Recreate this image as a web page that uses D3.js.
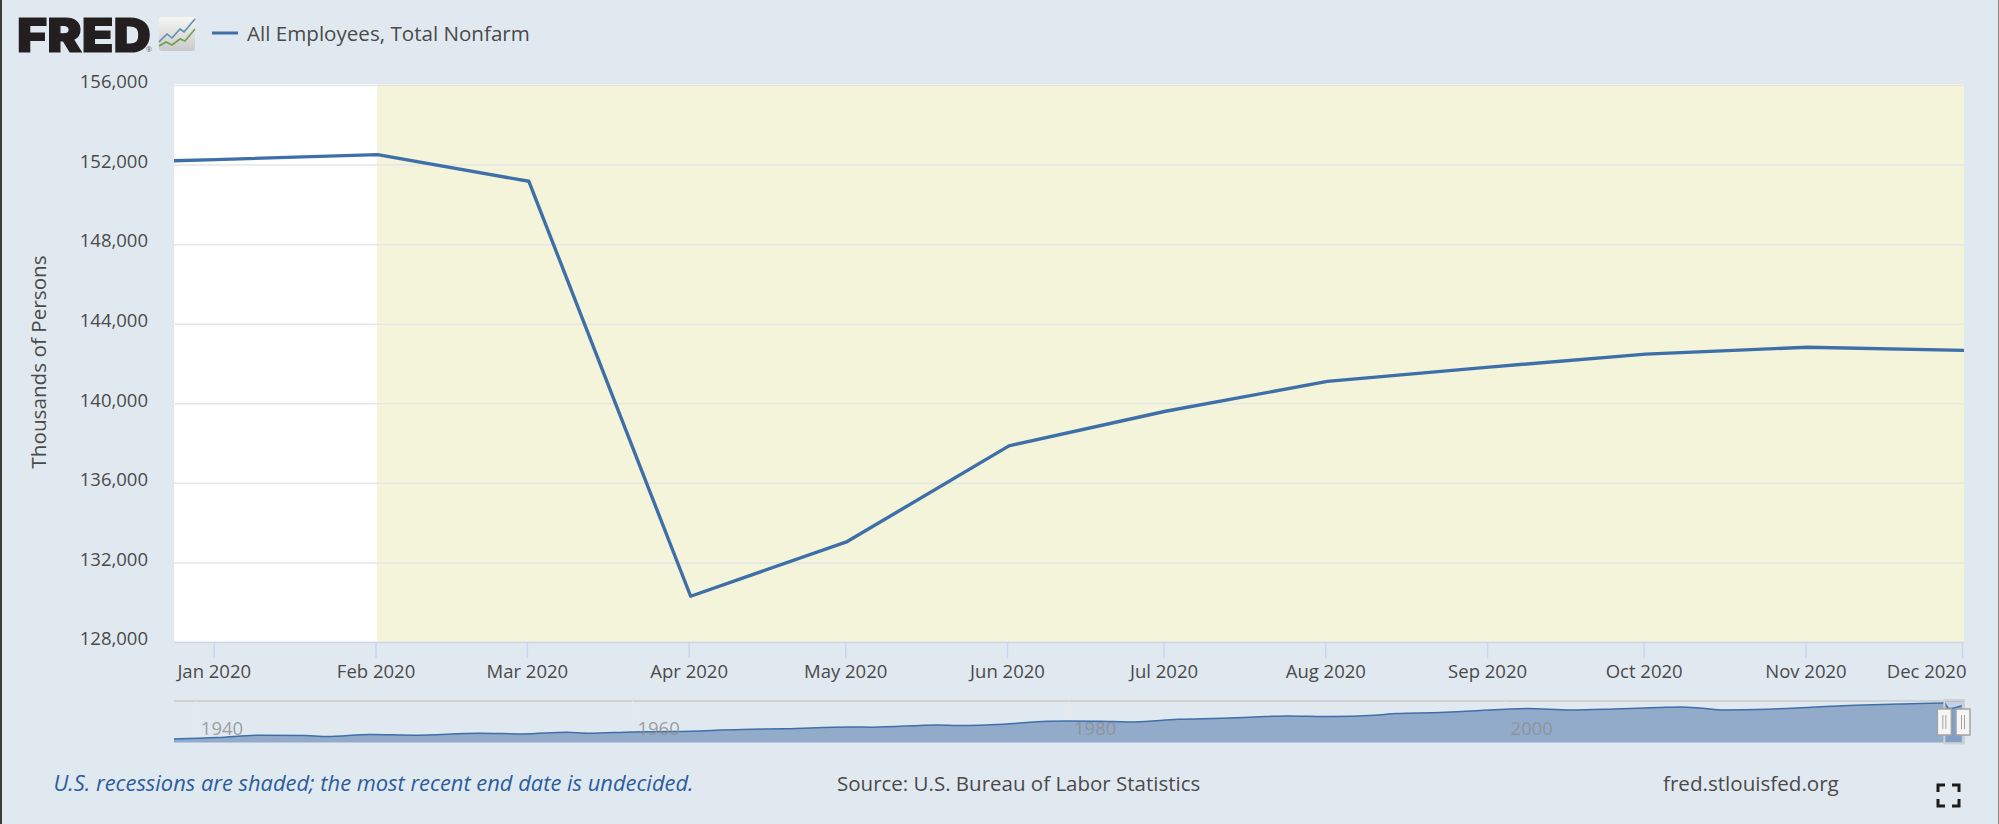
<!DOCTYPE html>
<html>
<head>
<meta charset="utf-8">
<script src="https://cdn.jsdelivr.net/npm/d3@7"></script>
<style>
  html, body { margin: 0; padding: 0; background: #e1e9f0; overflow: hidden; }
  text { font-family: "Open Sans", sans-serif; }
  .domain { display: none; }
</style>
</head>
<body>
<div id="chart"></div>
<script>
// monthly values, thousands of persons (Dec 2019 runs off the left edge)
var months = ["2019-12-01", "2020-01-01", "2020-02-01", "2020-03-01", "2020-04-01", "2020-05-01", "2020-06-01",
              "2020-07-01", "2020-08-01", "2020-09-01", "2020-10-01", "2020-11-01", "2020-12-01"];
var employees = [152020, 152250, 152500, 151160, 130300, 133050, 137860, 139600, 141100, 141820, 142470, 142820, 142660];

var yTicks = [128000, 132000, 136000, 140000, 144000, 148000, 152000, 156000];
var tickMonths = months.slice(1);

// navigator series, whole history
var navYears = [1939, 1941, 1943, 1945, 1946, 1948, 1950, 1953, 1955, 1957, 1958, 1960, 1962, 1965, 1967, 1970, 1971,
                1974, 1975, 1977, 1979, 1980, 1982, 1983, 1985, 1987, 1989, 1990, 1992, 1994, 1995, 1997, 1999, 2000,
                2001, 2003, 2005, 2007, 2008, 2009, 2010, 2012, 2014, 2016, 2018, 2020.1, 2020.3, 2020.9];
var navValues = [30000, 34800, 42600, 41600, 38200, 45000, 42600, 49400, 47000, 52800, 49400, 53800, 55200, 62000, 64700,
                 70800, 69800, 77600, 75600, 80000, 90200, 91300, 89200, 87900, 97000, 100400, 106200, 108300, 106200,
                 110600, 116400, 119800, 127700, 131100, 133400, 128700, 132100, 136900, 138900, 134500, 128700, 131100,
                 137900, 144700, 149100, 152500, 133400, 143600];
var navTicks = [1940, 1960, 1980, 2000];

var seriesName = "All Employees, Total Nonfarm";
var yTitle = "Thousands of Persons";
var noteText = "U.S. recessions are shaded; the most recent end date is undecided.";
var sourceText = "Source: U.S. Bureau of Labor Statistics";
var siteText = "fred.stlouisfed.org";

var W = 1999, H = 824;
var left = 174, right = 1964, top_ = 84, bottom = 642;
var parse = d3.timeParse("%Y-%m-%d");
var lineColor = "#3f6fa8";
var textColor = "#4a4a4a";

var svg = d3.select("#chart").append("svg").attr("width", W).attr("height", H).style("display", "block");

svg.append("rect").attr("width", W).attr("height", H).attr("fill", "#e1e9f0");
svg.append("rect").attr("width", 2).attr("height", H).attr("fill", "#3c3c3c");
svg.append("rect").attr("x", W - 1).attr("width", 1).attr("height", H).attr("fill", "#8a8a8a");

// scales
var xscale = d3.scaleTime()
    .domain([parse("2019-12-24"), parse("2020-12-01")])
    .range([left, right]);

var yscale = d3.scaleLinear()
    .domain([128000, 156000])
    .range([bottom, 85]);

// plot background + recession band
svg.append("rect")
    .attr("x", left).attr("y", top_)
    .attr("width", right - left).attr("height", bottom - top_)
    .attr("fill", "#fff");

svg.append("rect")
    .attr("x", xscale(parse("2020-02-01")) - 0.5).attr("y", top_)
    .attr("width", right - xscale(parse("2020-02-01")) + 0.5).attr("height", bottom - top_)
    .attr("fill", "#f4f4db");

// y axis with gridlines
var yAxis = svg.append("g")
    .attr("transform", "translate(" + left + ",0)")
    .call(d3.axisLeft(yscale).tickValues(yTicks).tickSize(-(right - left)).tickPadding(26).tickFormat(d3.format(",")));

yAxis.selectAll("line").attr("stroke", "#e6e6e6").attr("stroke-width", 1.5);
yAxis.selectAll("text").attr("fill", textColor).style("font-size", "18.5px").attr("dy", "0.15em");

svg.append("text")
    .attr("transform", "translate(38,362) rotate(-90)")
    .attr("text-anchor", "middle")
    .attr("dominant-baseline", "central")
    .attr("fill", textColor)
    .style("font-size", "20.7px")
    .text(yTitle);

// x axis, ticks sit a touch left of the data points
var xAxis = svg.append("g")
    .attr("transform", "translate(-2," + bottom + ")")
    .call(d3.axisBottom(xscale)
        .tickValues(tickMonths.map(parse))
        .tickSize(16)
        .tickPadding(7)
        .tickFormat(d3.timeFormat("%b %Y")));

xAxis.selectAll("line").attr("stroke", "#ccd6eb").attr("stroke-width", 1.5);
xAxis.selectAll("text").attr("fill", textColor).style("font-size", "18.5px");
xAxis.selectAll(".tick").filter(function(d, i) { return i == tickMonths.length - 1; })
    .select("text").attr("text-anchor", "end").attr("x", 4);

svg.append("line")
    .attr("x1", left).attr("x2", right).attr("y1", bottom + 0.5).attr("y2", bottom + 0.5)
    .attr("stroke", "#ccd6eb").attr("stroke-width", 1.5);

// main line
svg.append("clipPath").attr("id", "plot-clip").append("rect")
    .attr("x", left).attr("y", top_).attr("width", right - left).attr("height", bottom - top_);

var line = d3.line()
    .x(function(d, i) { return xscale(parse(months[i])); })
    .y(function(d) { return yscale(d); });

svg.append("path")
    .datum(employees)
    .attr("clip-path", "url(#plot-clip)")
    .attr("fill", "none")
    .attr("stroke", lineColor)
    .attr("stroke-width", 3.4)
    .attr("stroke-linejoin", "round")
    .attr("d", line);

// navigator
var navTop = 701, navBottom = 742.5;
var navx = d3.scaleLinear().domain([1939, 2021]).range([left, right]);
var navy = d3.scaleLinear().domain([17750, 159300]).range([navBottom, navTop]);

svg.append("line")
    .attr("x1", left).attr("x2", right).attr("y1", navTop).attr("y2", navTop)
    .attr("stroke", "#cfd2d4").attr("stroke-width", 2);

svg.selectAll(".navgrid")
    .data(navTicks)
    .enter()
    .append("line")
    .attr("class", "navgrid")
    .attr("x1", d => navx(d)).attr("x2", d => navx(d))
    .attr("y1", navTop).attr("y2", navBottom)
    .attr("stroke", "#e8e8e8");

var navArea = d3.area()
    .x(function(d, i) { return navx(navYears[i]); })
    .y0(navBottom)
    .y1(function(d) { return navy(d); })
    .curve(d3.curveMonotoneX);

var navLine = d3.line()
    .x(function(d, i) { return navx(navYears[i]); })
    .y(function(d) { return navy(d); })
    .curve(d3.curveMonotoneX);

svg.append("path").datum(navValues).attr("fill", "#92abcb").attr("d", navArea);
svg.append("path").datum(navValues).attr("fill", "none").attr("stroke", lineColor).attr("stroke-width", 1.5).attr("d", navLine);

svg.selectAll(".navlabel")
    .data(navTicks)
    .enter()
    .append("text")
    .attr("class", "navlabel")
    .attr("x", d => navx(d) + 5)
    .attr("y", 735)
    .attr("fill", "#8f8f8f")
    .attr("fill-opacity", 0.85)
    .style("font-size", "18.5px")
    .text(d => d);

// selected range on the navigator
var selStart = navx(2020.1), selEnd = right;
svg.append("rect")
    .attr("x", selStart).attr("y", navTop - 1)
    .attr("width", selEnd - selStart).attr("height", navBottom - navTop + 2)
    .attr("fill", "#3f6fa8").attr("fill-opacity", 0.2)
    .attr("stroke", "#cfd2d4").attr("stroke-width", 2);

[selStart, selEnd - 1].forEach(function(cx) {
    var h = svg.append("g").attr("transform", "translate(" + cx + ",722)");
    h.append("rect").attr("x", -7).attr("y", -13).attr("width", 14).attr("height", 26)
        .attr("fill", "#f5f5f5").attr("stroke", "#a3a3a3").attr("stroke-width", 1.5);
    [-1.5, 1.5].forEach(function(dx) {
        h.append("line").attr("x1", dx).attr("x2", dx).attr("y1", -7).attr("y2", 7)
            .attr("stroke", "#a3a3a3").attr("stroke-width", 1);
    });
});

// header: logo + legend
svg.append("text")
    .attr("x", 17).attr("y", 51.5)
    .attr("fill", "#231f20")
    .attr("stroke", "#231f20").attr("stroke-width", 1.2)
    .attr("textLength", 134).attr("lengthAdjust", "spacingAndGlyphs")
    .style("font-family", "Inter, sans-serif").style("font-weight", 900).style("font-size", "47px")
    .text("FRED");

svg.append("text")
    .attr("x", 146).attr("y", 52)
    .attr("fill", "#6a6a6a")
    .style("font-size", "7px")
    .text("®");

var grad = svg.append("linearGradient").attr("id", "icon-bg").attr("x1", 0).attr("x2", 0).attr("y1", 0).attr("y2", 1);
grad.append("stop").attr("offset", 0).attr("stop-color", "#f6f6f4");
grad.append("stop").attr("offset", 1).attr("stop-color", "#c8c9c9");

svg.append("rect")
    .attr("x", 159).attr("y", 17).attr("width", 36).attr("height", 34).attr("rx", 3)
    .attr("fill", "url(#icon-bg)");

var iconBlue = [[159, 42], [167, 34], [172, 38], [180, 29], [184, 32], [195, 19]];
var iconGreen = [[159, 46], [166, 42], [172, 45], [180, 39], [185, 41], [195, 29]];
svg.append("path").attr("d", d3.line()(iconBlue)).attr("fill", "none").attr("stroke", "#5b8fb0").attr("stroke-width", 1.6);
svg.append("path").attr("d", d3.line()(iconGreen)).attr("fill", "none").attr("stroke", "#6fa04c").attr("stroke-width", 1.6);

svg.append("line")
    .attr("x1", 212).attr("x2", 238).attr("y1", 33).attr("y2", 33)
    .attr("stroke", lineColor).attr("stroke-width", 3);

svg.append("text")
    .attr("x", 247).attr("y", 41)
    .attr("fill", textColor)
    .style("font-size", "20.6px")
    .text(seriesName);

// footer
svg.append("text")
    .attr("x", 53.5).attr("y", 791)
    .attr("fill", "#2b5c9e")
    .style("font-style", "italic").style("font-size", "21.9px")
    .text(noteText);

svg.append("text")
    .attr("x", 837).attr("y", 791)
    .attr("fill", textColor)
    .style("font-size", "20.5px")
    .text(sourceText);

svg.append("text")
    .attr("x", 1663).attr("y", 791)
    .attr("fill", textColor)
    .style("font-size", "20.6px")
    .text(siteText);

// fullscreen icon
var corners = [[1938, 785, 1, 1], [1959, 785, -1, 1], [1938, 806, 1, -1], [1959, 806, -1, -1]];
corners.forEach(function(c) {
    svg.append("path")
        .attr("d", "M" + (c[0] + 7 * c[2]) + "," + c[1] + "H" + c[0] + "V" + (c[1] + 7 * c[3]))
        .attr("fill", "none").attr("stroke", "#1c1c1c").attr("stroke-width", 3);
});
</script>
</body>
</html>
